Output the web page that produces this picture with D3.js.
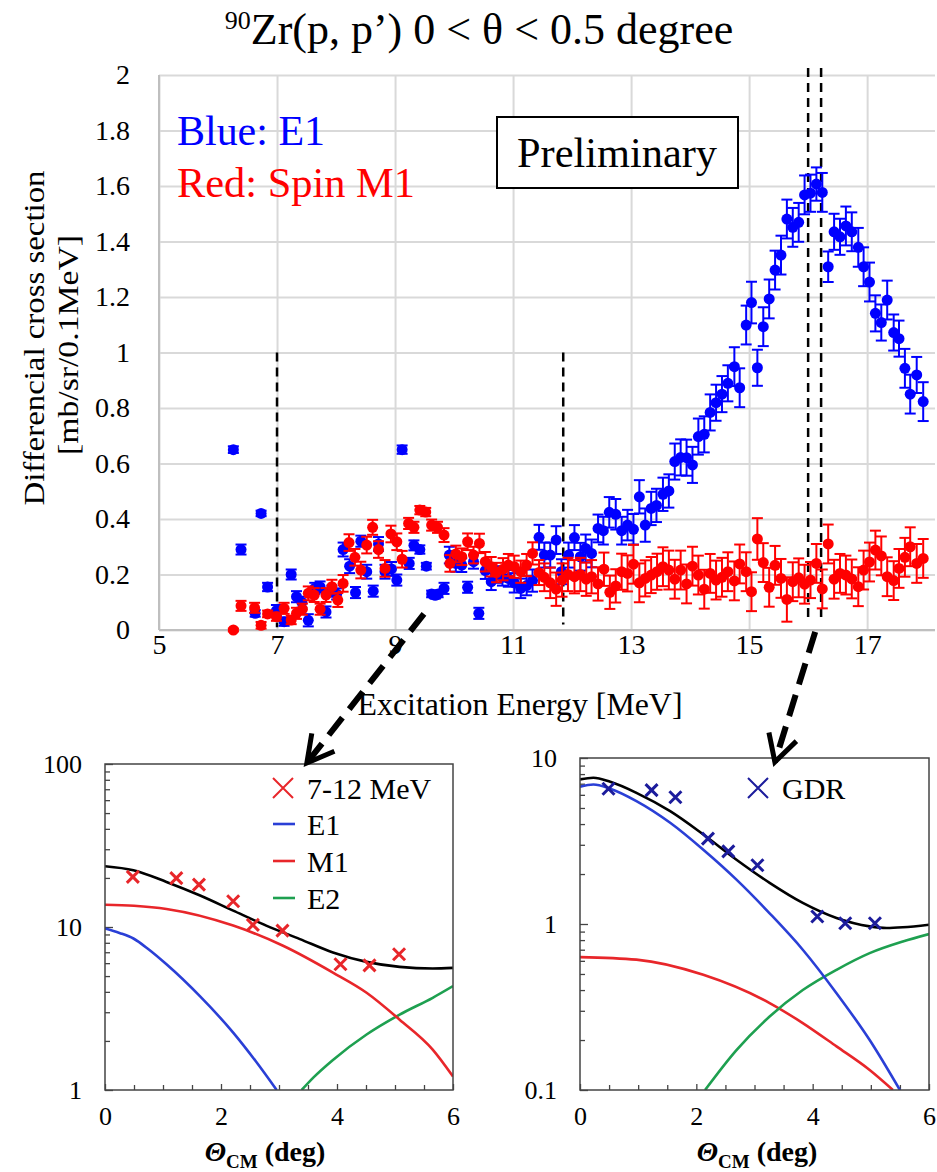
<!DOCTYPE html>
<html>
<head>
<meta charset="utf-8">
<script src="https://cdn.jsdelivr.net/npm/d3@7"></script>
<style>
body { margin: 0; background: #fff; }
svg { display: block; }
text { font-family: "Liberation Serif", "Times New Roman", serif; }
</style>
</head>
<body>
<div id="chart"></div>
<script>
// ---- top panel: 90Zr(p,p') spectra ----
var blueE = [6.26,6.39,6.63,6.73,6.84,6.99,7.12,7.24,7.33,7.42,7.53,7.64,7.73,7.83,7.93,8.01,8.12,8.23,8.33,8.42,8.52,8.63,8.72,8.83,8.94,9.03,9.12,9.24,9.32,9.42,9.53,9.62,9.68,9.73,9.83,9.92,10.03,10.13,10.23,10.33,10.42,10.53,10.63,10.72,10.82,10.92,11.02,11.13,11.23,11.33,11.44,11.53,11.63,11.73,11.82,11.94,12.04,12.14,12.23,12.33,12.44,12.53,12.63,12.74,12.84,12.94,13.04,13.14,13.24,13.34,13.43,13.54,13.64,13.74,13.84,13.94,14.04,14.14,14.24,14.34,14.44,14.54,14.64,14.75,14.84,14.95,15.04,15.14,15.24,15.34,15.44,15.54,15.64,15.74,15.84,15.94,16.04,16.14,16.24,16.34,16.44,16.54,16.64,16.74,16.85,16.94,17.04,17.14,17.24,17.34,17.45,17.54,17.64,17.73,17.84,17.95]
var blueY = [0.65,0.29,0.06,0.42,0.155,0.07,0.03,0.2,0.12,0.1,0.035,0.15,0.155,0.065,0.14,0.13,0.29,0.23,0.135,0.32,0.21,0.14,0.31,0.21,0.22,0.18,0.65,0.24,0.305,0.29,0.23,0.13,0.125,0.13,0.15,0.27,0.24,0.234,0.154,0.246,0.06,0.214,0.174,0.2,0.19,0.186,0.17,0.15,0.16,0.178,0.334,0.27,0.27,0.324,0.21,0.27,0.333,0.264,0.294,0.276,0.366,0.358,0.424,0.417,0.358,0.378,0.363,0.48,0.378,0.438,0.449,0.489,0.501,0.607,0.622,0.621,0.595,0.697,0.705,0.784,0.819,0.85,0.889,0.949,0.873,1.099,1.18,0.945,1.093,1.193,1.297,1.351,1.481,1.451,1.469,1.568,1.574,1.607,1.577,1.309,1.435,1.417,1.456,1.435,1.379,1.309,1.254,1.141,1.108,1.189,1.072,1.05,0.943,0.85,0.919,0.823]
var blueErr = [0.012,0.018,0.012,0.01,0.015,0.02,0.015,0.018,0.02,0.02,0.022,0.02,0.02,0.02,0.02,0.02,0.025,0.025,0.02,0.02,0.025,0.02,0.025,0.025,0.025,0.02,0.015,0.02,0.018,0.015,0.012,0.012,0.012,0.012,0.02,0.03,0.03,0.025,0.02,0.025,0.02,0.03,0.03,0.03,0.03,0.03,0.035,0.035,0.035,0.04,0.045,0.045,0.045,0.05,0.045,0.045,0.045,0.05,0.05,0.05,0.05,0.05,0.055,0.055,0.05,0.055,0.055,0.06,0.06,0.06,0.06,0.06,0.06,0.065,0.065,0.065,0.065,0.065,0.065,0.065,0.065,0.065,0.065,0.07,0.07,0.07,0.075,0.065,0.07,0.07,0.07,0.07,0.07,0.07,0.07,0.07,0.067,0.06,0.07,0.055,0.065,0.065,0.07,0.07,0.07,0.07,0.07,0.065,0.065,0.07,0.065,0.065,0.07,0.07,0.065,0.07]

var redE = [6.26,6.39,6.62,6.73,6.84,6.99,7.12,7.24,7.33,7.43,7.53,7.63,7.73,7.83,7.93,8.03,8.12,8.22,8.32,8.42,8.52,8.62,8.72,8.83,8.93,9.03,9.12,9.23,9.32,9.42,9.52,9.62,9.72,9.83,9.93,10.03,10.13,10.23,10.33,10.43,10.53,10.63,10.72,10.83,10.92,11.02,11.13,11.23,11.33,11.44,11.53,11.63,11.73,11.83,11.93,12.04,12.14,12.24,12.33,12.44,12.54,12.64,12.74,12.84,12.94,13.04,13.14,13.24,13.34,13.44,13.54,13.64,13.74,13.84,13.94,14.04,14.14,14.24,14.34,14.44,14.54,14.64,14.75,14.84,14.95,15.04,15.14,15.24,15.34,15.44,15.54,15.64,15.74,15.84,15.94,16.04,16.14,16.24,16.34,16.44,16.54,16.64,16.74,16.85,16.94,17.04,17.14,17.24,17.34,17.45,17.54,17.64,17.73,17.84,17.95]
var redY = [0,0.087,0.08,0.017,0.058,0.048,0.078,0.036,0.06,0.075,0.132,0.126,0.075,0.126,0.156,0.108,0.168,0.315,0.262,0.216,0.306,0.37,0.29,0.222,0.346,0.318,0.255,0.384,0.37,0.432,0.425,0.378,0.37,0.342,0.24,0.274,0.264,0.318,0.27,0.312,0.246,0.228,0.207,0.219,0.234,0.228,0.21,0.234,0.276,0.207,0.19,0.17,0.147,0.18,0.2,0.192,0.2,0.183,0.192,0.166,0.219,0.136,0.159,0.21,0.204,0.237,0.17,0.186,0.198,0.21,0.228,0.216,0.183,0.216,0.166,0.23,0.198,0.147,0.204,0.18,0.19,0.21,0.177,0.238,0.21,0.138,0.328,0.243,0.154,0.233,0.186,0.11,0.174,0.188,0.165,0.18,0.24,0.148,0.31,0.183,0.204,0.198,0.184,0.156,0.216,0.245,0.288,0.267,0.192,0.178,0.222,0.262,0.3,0.24,0.258]
var redErr = [0.005,0.018,0.018,0.012,0.012,0.015,0.02,0.015,0.02,0.02,0.025,0.025,0.02,0.025,0.025,0.025,0.03,0.03,0.03,0.03,0.03,0.027,0.03,0.03,0.03,0.03,0.03,0.02,0.02,0.015,0.015,0.02,0.02,0.025,0.03,0.03,0.03,0.03,0.03,0.035,0.035,0.035,0.035,0.04,0.04,0.04,0.04,0.04,0.04,0.045,0.05,0.055,0.06,0.06,0.06,0.06,0.06,0.06,0.06,0.06,0.06,0.06,0.06,0.065,0.065,0.07,0.07,0.065,0.065,0.065,0.07,0.07,0.07,0.07,0.07,0.07,0.07,0.07,0.07,0.07,0.07,0.07,0.07,0.07,0.07,0.07,0.075,0.07,0.07,0.07,0.07,0.08,0.07,0.07,0.07,0.065,0.07,0.07,0.07,0.07,0.07,0.07,0.07,0.07,0.07,0.07,0.07,0.07,0.07,0.07,0.07,0.07,0.07,0.07,0.07]

var xTicks = [5,7,9,11,13,15,17]
var yTicks = [0,0.2,0.4,0.6,0.8,1,1.2,1.4,1.6,1.8,2]

// ---- bottom left: 7-12 MeV angular distribution ----
var ptsLth = [0.48,1.23,1.62,2.21,2.55,3.06,4.06,4.56,5.07]
var ptsLy  = [20.3,19.96,18.2,14.4,10.3,9.5,5.91,5.82,6.81]
var totLth = [0,0.49,1.06,1.64,2.21,2.78,3.36,3.93,4.51,5.08,5.65,6.0]
var totLy  = [23.6,22.3,18.9,15.6,12.6,10.2,8.43,6.98,6.11,5.69,5.56,5.61]
var m1Lth  = [0,0.5,1.06,2.21,3.07,3.93,4.51,5.08,5.65,6.0]
var m1Ly   = [13.7,13.5,12.9,10.2,7.67,5.25,3.95,2.70,1.77,1.21]
var e1Lth  = [0,0.25,0.49,0.75,1.06,1.64,2.21,2.6,2.96]
var e1Ly   = [9.8,9.2,8.5,7.3,5.9,3.75,2.25,1.5,1.0]
var e2Lth  = [3.39,3.6,3.93,4.51,5.08,5.65,6.0]
var e2Ly   = [1.0,1.2,1.53,2.19,2.9,3.68,4.34]

// ---- bottom right: GDR angular distribution ----
var ptsRth = [0.49,1.23,1.64,2.2,2.55,3.05,4.08,4.56,5.07]
var ptsRy  = [6.53,6.4,5.8,3.27,2.74,2.26,1.11,1.01,1.01]
var totRth = [0,0.23,0.52,0.97,1.55,2.12,2.69,3.26,3.83,4.41,4.98,5.27,5.55,6.0]
var totRy  = [7.43,7.6,7.19,6.17,4.78,3.46,2.44,1.77,1.34,1.087,0.968,0.946,0.955,0.99]
var e1Rth  = [0,0.23,0.52,0.97,1.55,2.12,2.69,3.26,3.83,4.41,4.98,5.5]
var e1Ry   = [6.72,6.93,6.53,5.5,4.07,2.8,1.85,1.16,0.70,0.383,0.2,0.1]
var m1Rth  = [0,0.97,2.12,3.26,3.83,4.41,4.98,5.38]
var m1Ry   = [0.632,0.61,0.494,0.334,0.253,0.183,0.132,0.1]
var e2Rth  = [2.15,2.69,3.26,3.83,4.41,4.98,5.55,6.0]
var e2Ry   = [0.1,0.174,0.277,0.4,0.53,0.668,0.785,0.87]

var thTicks = [0,2,4,6]
var thMinor = [0.5,1,1.5,2.5,3,3.5,4.5,5,5.5]

var cBlue = "#2a3fd6", cRed = "#e8262a", cGreen = "#1ea050", cNavy = "#1c1c9c"

var svg = d3.select("#chart").append("svg")
    .attr("width", 937)
    .attr("height", 1172)

// ================= top chart =================
var x = d3.scaleLinear().domain([5, 18.15]).range([159, 935])
var y = d3.scaleLinear().domain([0, 2]).range([630, 75])

// grid
svg.append("g")
    .attr("transform", "translate(0,630)")
    .call(d3.axisBottom(x).tickValues(xTicks).tickSize(-555).tickFormat(""))
    .call(g => g.select(".domain").remove())
    .selectAll("line").attr("stroke", "#d9d9d9").attr("stroke-width", 2)
svg.append("g")
    .attr("transform", "translate(159,0)")
    .call(d3.axisLeft(y).tickValues(yTicks).tickSize(-776).tickFormat(""))
    .call(g => g.select(".domain").remove())
    .selectAll("line").attr("stroke", "#d9d9d9").attr("stroke-width", 2)

// axis lines
svg.append("line").attr("x1", 159).attr("x2", 159).attr("y1", y(2)).attr("y2", y(0))
    .attr("stroke", "#bfbfbf").attr("stroke-width", 2)
svg.append("line").attr("x1", 159).attr("x2", 935).attr("y1", y(0)).attr("y2", y(0))
    .attr("stroke", "#bfbfbf").attr("stroke-width", 2)

// tick labels
var yax = svg.append("g")
    .attr("transform", "translate(159,0)")
    .call(d3.axisLeft(y).tickValues(yTicks).tickSize(0).tickPadding(29).tickFormat(d => String(d)))
yax.select(".domain").remove()
yax.selectAll("text").attr("font-size", 28).attr("fill", "#000")
    .style("font-family", "'Liberation Serif', serif")

var xax = svg.append("g")
    .attr("transform", "translate(0,630)")
    .call(d3.axisBottom(x).tickValues(xTicks).tickSize(0).tickPadding(4).tickFormat(d => String(d)))
xax.select(".domain").remove()
xax.selectAll("text").attr("font-size", 28).attr("fill", "#000")
    .style("font-family", "'Liberation Serif', serif")

// dashed guide lines
var dash = svg.append("g").attr("stroke", "#000").attr("stroke-width", 2.5)
    .attr("stroke-dasharray", "9,6").attr("fill", "none")
dash.append("line").attr("x1", x(7)).attr("x2", x(7)).attr("y1", y(1)).attr("y2", y(0.01))
dash.append("line").attr("x1", x(11.85)).attr("x2", x(11.85)).attr("y1", y(1)).attr("y2", y(0.02))
dash.append("line").attr("x1", x(16.0)).attr("x2", x(16.0)).attr("y1", y(2) - 7).attr("y2", y(0.043))
dash.append("line").attr("x1", x(16.22)).attr("x2", x(16.22)).attr("y1", y(2) - 7).attr("y2", y(0.043))

function drawSeries(E, V, Err, col) {
    var g = svg.append("g")
    var pts = E.map((e, i) => ({e: e, v: V[i], s: Err[i]}))
    var eb = g.selectAll(".eb").data(pts).enter().append("g")
        .attr("stroke", col).attr("stroke-width", 2)
    eb.append("line")
        .attr("x1", d => x(d.e)).attr("x2", d => x(d.e))
        .attr("y1", d => y(d.v - d.s)).attr("y2", d => y(d.v + d.s))
    eb.append("line")
        .attr("x1", d => x(d.e) - 5.5).attr("x2", d => x(d.e) + 5.5)
        .attr("y1", d => y(d.v - d.s)).attr("y2", d => y(d.v - d.s))
    eb.append("line")
        .attr("x1", d => x(d.e) - 5.5).attr("x2", d => x(d.e) + 5.5)
        .attr("y1", d => y(d.v + d.s)).attr("y2", d => y(d.v + d.s))
    g.selectAll("circle").data(pts).enter().append("circle")
        .attr("cx", d => x(d.e)).attr("cy", d => y(d.v)).attr("r", 5.5)
        .attr("fill", col)
}
drawSeries(blueE, blueY, blueErr, "#0000ff")
drawSeries(redE, redY, redErr, "#ff0000")

// title
var title = svg.append("text").attr("x", 479).attr("y", 44).attr("text-anchor", "middle")
    .attr("font-size", 44)
title.append("tspan").attr("font-size", 26).attr("dy", -15).text("90")
title.append("tspan").attr("dy", 15).text("Zr(p, p\u2019) 0 < \u03b8 < 0.5 degree")

// legend texts
svg.append("text").attr("x", 177).attr("y", 145).attr("font-size", 42).attr("fill", "#0000ff")
    .attr("textLength", 148).attr("lengthAdjust", "spacingAndGlyphs").text("Blue: E1")
svg.append("text").attr("x", 177).attr("y", 197).attr("font-size", 42).attr("fill", "#ff0000")
    .attr("textLength", 238).attr("lengthAdjust", "spacingAndGlyphs").text("Red: Spin M1")

svg.append("rect").attr("x", 497).attr("y", 117).attr("width", 241).attr("height", 71)
    .attr("fill", "#fff").attr("stroke", "#000").attr("stroke-width", 2)
svg.append("text").attr("x", 617).attr("y", 167).attr("text-anchor", "middle").attr("font-size", 42)
    .attr("textLength", 200).attr("lengthAdjust", "spacingAndGlyphs").text("Preliminary")

// axis titles
svg.append("text").attr("x", 520).attr("y", 715).attr("text-anchor", "middle").attr("font-size", 31)
    .attr("textLength", 325).attr("lengthAdjust", "spacingAndGlyphs").text("Excitation Energy [MeV]")
svg.append("text").attr("transform", "translate(44,338) rotate(-90)").attr("text-anchor", "middle")
    .attr("font-size", 30).attr("textLength", 335).attr("lengthAdjust", "spacingAndGlyphs")
    .text("Differencial  cross section")
svg.append("text").attr("transform", "translate(78,345) rotate(-90)").attr("text-anchor", "middle")
    .attr("font-size", 30).attr("textLength", 220).attr("lengthAdjust", "spacingAndGlyphs")
    .text("[mb/sr/0.1MeV]")

// ================= bottom panels =================
function panel(opt) {
    var px = d3.scaleLinear().domain([0, 6]).range([opt.left, opt.right])
    var py = d3.scaleLog().domain(opt.ydom).range([opt.bottom, opt.top])
    var g = svg.append("g")
    var clipId = "clip" + opt.id
    svg.append("clipPath").attr("id", clipId).append("rect")
        .attr("x", opt.left).attr("y", opt.top)
        .attr("width", opt.right - opt.left).attr("height", opt.bottom - opt.top)

    // ticks (inward)
    var minor = []
    var lo = opt.ydom[0]
    for (var dec = lo; dec < opt.ydom[1]; dec *= 10) {
        for (var k = 2; k <= 9; k++) minor.push(dec * k)
    }
    var majors = [opt.ydom[0], opt.ydom[0] * 10, opt.ydom[1]]
    g.append("g").attr("transform", "translate(" + opt.left + ",0)")
        .call(d3.axisLeft(py).tickValues(minor).tickSize(-5).tickFormat(""))
        .call(a => a.select(".domain").remove())
        .selectAll("line").attr("stroke", "#444").attr("stroke-width", 1.3)
    var ya = g.append("g").attr("transform", "translate(" + opt.left + ",0)")
        .call(d3.axisLeft(py).tickValues(majors).tickSize(-8).tickPadding(23).tickFormat(d => String(d)))
    ya.select(".domain").remove()
    ya.selectAll("line").attr("stroke", "#444").attr("stroke-width", 1.3)
    ya.selectAll("text").attr("font-size", 26).attr("fill", "#000").style("font-family", "'Liberation Serif', serif")

    g.append("g").attr("transform", "translate(0," + opt.bottom + ")")
        .call(d3.axisBottom(px).tickValues(thMinor).tickSize(-5).tickFormat(""))
        .call(a => a.select(".domain").remove())
        .selectAll("line").attr("stroke", "#444").attr("stroke-width", 1.3)
    var xa = g.append("g").attr("transform", "translate(0," + opt.bottom + ")")
        .call(d3.axisBottom(px).tickValues(thTicks).tickSize(-6).tickPadding(17).tickFormat(d => String(d)))
    xa.select(".domain").remove()
    xa.selectAll("line").attr("stroke", "#444").attr("stroke-width", 1.3)
    xa.selectAll("text").attr("font-size", 26).attr("fill", "#000").style("font-family", "'Liberation Serif', serif")

    var line = d3.line().x(d => px(d[0])).y(d => py(d[1])).curve(d3.curveMonotoneX)
    var cg = g.append("g").attr("clip-path", "url(#" + clipId + ")").attr("fill", "none")
        .attr("stroke-width", 2.6)
    opt.curves.forEach(function (c) {
        cg.append("path").datum(c.th.map((t, i) => [t, c.v[i]]))
            .attr("d", line).attr("stroke", c.col)
    })

    // data crosses
    var pts = opt.pth.map((t, i) => [t, opt.pv[i]])
    var cr = g.append("g").attr("stroke", opt.pcol).attr("stroke-width", 3)
    cr.selectAll("path").data(pts).enter().append("path")
        .attr("d", d => {
            var cx = px(d[0]), cy = py(d[1]), s = 6
            return "M" + (cx - s) + "," + (cy - s) + "L" + (cx + s) + "," + (cy + s) +
                "M" + (cx - s) + "," + (cy + s) + "L" + (cx + s) + "," + (cy - s)
        })

    // frame
    g.append("rect").attr("x", opt.left).attr("y", opt.top)
        .attr("width", opt.right - opt.left).attr("height", opt.bottom - opt.top)
        .attr("fill", "none").attr("stroke", "#444").attr("stroke-width", 1.5)

    // axis title
    var t = g.append("text").attr("x", opt.titleX).attr("y", 1161)
        .attr("text-anchor", "middle").attr("font-size", 28).attr("font-weight", "bold")
    t.append("tspan").attr("font-style", "italic").text("\u0398")
    t.append("tspan").attr("font-size", 19).attr("dy", 7).text("CM")
    t.append("tspan").attr("dy", -7).text(" (deg)")

    return {px: px, py: py}
}

var L = panel({
    id: "L", left: 105, right: 453, top: 764, bottom: 1090, ydom: [1, 100], titleX: 265,
    curves: [
        {th: e1Lth, v: e1Ly, col: cBlue},
        {th: e2Lth, v: e2Ly, col: cGreen},
        {th: m1Lth, v: m1Ly, col: cRed},
        {th: totLth, v: totLy, col: "#000"}
    ],
    pth: ptsLth, pv: ptsLy, pcol: cRed
})
var R = panel({
    id: "R", left: 580, right: 929, top: 758, bottom: 1090, ydom: [0.1, 10], titleX: 757,
    curves: [
        {th: m1Rth, v: m1Ry, col: cRed},
        {th: e2Rth, v: e2Ry, col: cGreen},
        {th: e1Rth, v: e1Ry, col: cBlue},
        {th: totRth, v: totRy, col: "#000"}
    ],
    pth: ptsRth, pv: ptsRy, pcol: cNavy
})

// legends
function cross(cx, cy, s, col, w) {
    svg.append("path").attr("stroke", col).attr("stroke-width", w).attr("fill", "none")
        .attr("d", "M" + (cx - s) + "," + (cy - s) + "L" + (cx + s) + "," + (cy + s) +
            "M" + (cx - s) + "," + (cy + s) + "L" + (cx + s) + "," + (cy - s))
}
cross(283, 788, 10, cRed, 2)
svg.append("text").attr("x", 307).attr("y", 799).attr("font-size", 30).text("7-12 MeV")
var legL = [["E1", cBlue], ["M1", cRed], ["E2", cGreen]]
legL.forEach(function (d, i) {
    var ly = 824 + i * 37
    svg.append("line").attr("x1", 273).attr("x2", 295).attr("y1", ly).attr("y2", ly)
        .attr("stroke", d[1]).attr("stroke-width", 2.6)
    svg.append("text").attr("x", 307).attr("y", ly + 11).attr("font-size", 30).text(d[0])
})
cross(758, 788, 10, cNavy, 2)
svg.append("text").attr("x", 782).attr("y", 799).attr("font-size", 30).text("GDR")

// ================= arrows =================
function arrow(x1, y1, x2, y2) {
    svg.append("line").attr("x1", x1).attr("y1", y1).attr("x2", x2).attr("y2", y2)
        .attr("stroke", "#000").attr("stroke-width", 6).attr("stroke-dasharray", "22,11")
    var a = Math.atan2(y1 - y2, x1 - x2), len = 30, sp = 0.5
    svg.append("path").attr("fill", "none").attr("stroke", "#000").attr("stroke-width", 5)
        .attr("stroke-linejoin", "miter")
        .attr("d", "M" + (x2 + len * Math.cos(a - sp)) + "," + (y2 + len * Math.sin(a - sp)) +
            "L" + x2 + "," + y2 +
            "L" + (x2 + len * Math.cos(a + sp)) + "," + (y2 + len * Math.sin(a + sp)))
}
arrow(x(9.49), y(0.058), L.px(3.48), L.py(100) - 1)
arrow(x(16.12), y(-0.007), R.px(3.35), R.py(10) + 4)
</script>
</body>
</html>
